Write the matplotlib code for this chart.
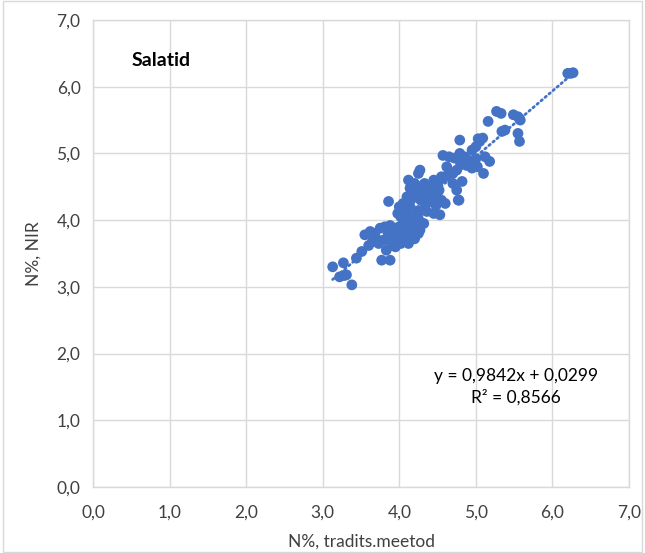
import matplotlib
matplotlib.use("Agg")
import matplotlib.pyplot as plt
from matplotlib.patches import Rectangle
import numpy as np

plt.rcParams['font.family'] = ['Lato', 'DejaVu Sans']

# N%, traditional method (x) vs N%, NIR (y)
x_trad = [
    # upper region
    5.27, 5.33, 5.49, 5.55, 5.57, 5.58, 5.16, 5.34, 5.38, 5.55, 5.57, 5.09, 5.03, 4.79,
    5.05, 5.00, 4.95, 4.79, 4.57, 4.65, 4.72, 4.85, 4.90, 5.00, 5.18, 5.10, 5.02, 4.95,
    4.88, 4.80, 5.12, 4.75, 4.70, 4.75, 4.78, 4.82, 4.65, 4.60, 4.55, 4.50, 4.45, 4.62,
    4.70, 4.55,
    # middle region
    4.27, 4.25, 4.12, 4.20, 4.14, 4.25, 4.30, 4.35, 4.40, 4.45, 4.50, 4.38, 4.33, 4.18,
    4.10, 4.15, 4.22, 4.28, 4.35, 4.42, 4.48, 4.55, 4.60, 4.77, 4.05, 4.00, 4.08, 4.15,
    4.22, 4.30, 4.36, 4.53, 4.45, 4.02, 4.10, 4.18, 4.25, 4.32, 4.12, 4.05, 4.20, 4.27,
    3.98, 4.40, 4.47, 4.52,
    # lower cluster
    3.55, 3.62, 3.68, 3.75, 3.81, 3.88, 3.95, 4.00, 3.70, 3.79, 3.85, 3.92, 3.98, 4.05,
    4.10, 4.15, 3.83, 3.90, 3.95, 4.02, 4.08, 4.12, 4.20, 3.77, 3.88, 3.60, 3.65, 3.73,
    3.85, 3.90, 4.03, 3.96, 4.17, 4.25, 4.22, 3.86, 3.51, 3.44,
    # lower tail
    3.13, 3.27, 3.22, 3.31, 3.38, 3.28,
    # top
    6.20, 6.24, 6.27,
]
y_nir = [
    5.63, 5.60, 5.58, 5.55, 5.52, 5.50, 5.48, 5.33, 5.35, 5.30, 5.18, 5.23, 5.22, 5.20,
    5.18, 5.10, 5.05, 5.00, 4.97, 4.95, 4.93, 4.95, 4.90, 4.92, 4.88, 4.70, 4.80, 4.78,
    4.82, 4.85, 4.95, 4.75, 4.55, 4.45, 4.30, 4.58, 4.70, 4.65, 4.62, 4.55, 4.60, 4.80,
    4.70, 4.65,
    4.75, 4.70, 4.60, 4.55, 4.48, 4.50, 4.45, 4.40, 4.38, 4.40, 4.35, 4.50, 4.55, 4.40,
    4.35, 4.30, 4.35, 4.30, 4.25, 4.28, 4.22, 4.30, 4.25, 4.30, 4.25, 4.20, 4.15, 4.18,
    4.12, 4.15, 4.13, 4.08, 4.10, 4.05, 4.05, 4.00, 4.02, 3.95, 3.92, 3.95, 3.88, 3.85,
    4.10, 4.48, 4.50, 4.45,
    3.78, 3.83, 3.80, 3.88, 3.90, 3.92, 3.88, 3.90, 3.72, 3.70, 3.72, 3.75, 3.70, 3.78,
    3.80, 3.75, 3.55, 3.62, 3.60, 3.65, 3.70, 3.65, 3.72, 3.40, 3.40, 3.62, 3.68, 3.65,
    3.82, 3.85, 3.85, 3.80, 3.85, 3.80, 3.92, 4.28, 3.53, 3.43,
    3.30, 3.36, 3.15, 3.18, 3.03, 3.17,
    6.20, 6.20, 6.21,
]

slope = 0.9842
intercept = 0.0299
r2 = 0.8566
ticks = [0, 1, 2, 3, 4, 5, 6, 7]
tick_labels = ["0,0", "1,0", "2,0", "3,0", "4,0", "5,0", "6,0", "7,0"]

blue = "#4472C4"
grid_c = "#D9D9D9"
txt_c = "#404040"

fig = plt.figure(figsize=(6.45, 5.53), dpi=100)
ax = fig.add_axes([93/645, 1-487/553, (629-93)/645, (487-20)/553])

ax.scatter(x_trad, y_nir, s=60, color=blue, edgecolors='none', zorder=3)

xs = np.array([min(x_trad), max(x_trad)])
ax.plot(xs, slope*xs + intercept, color=blue, lw=2.0, linestyle=(0, (0.6, 1.3)),
        dash_capstyle='round', zorder=2)

ax.set_xlim(0, 7)
ax.set_ylim(0, 7)
ax.set_xticks(ticks)
ax.set_yticks(ticks)
ax.set_xticklabels(tick_labels)
ax.set_yticklabels(tick_labels)
ax.tick_params(axis='both', length=0, labelsize=12.5, colors=txt_c)
ax.tick_params(axis='x', pad=13)
ax.tick_params(axis='y', pad=9)
ax.grid(True, color=grid_c, lw=1.0, zorder=0)
ax.set_axisbelow(True)
for sp in ax.spines.values():
    sp.set_color(grid_c)
    sp.set_linewidth(1.0)

ax.set_xlabel("N%, tradits.meetod", fontsize=12.5, color=txt_c, labelpad=9)
ax.set_ylabel("N%, NIR", fontsize=12.5, color=txt_c, labelpad=11)

ax.text(0.5, 6.4, "Salatid", fontsize=14, fontweight='bold', color='black',
        ha='left', va='center')
ax.text(5.52, 1.67, "y = 0,9842x + 0,0299", fontsize=12.5, color='black',
        ha='center', va='center')
ax.text(5.52, 1.34, "R² = 0,8566", fontsize=12.5, color='black',
        ha='center', va='center')

fig.patches.append(Rectangle((0.004, 0.002), 0.992, 0.996, transform=fig.transFigure,
                             fill=False, edgecolor=grid_c, lw=1.0))

fig.savefig("out.png", dpi=100)
